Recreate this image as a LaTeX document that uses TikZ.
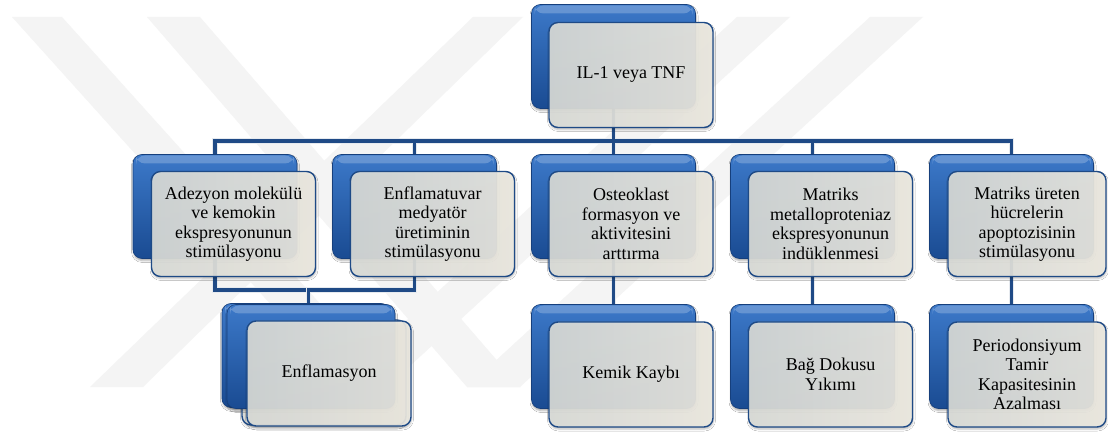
\documentclass[tikz,border=0pt]{standalone}
\usepackage{fontspec}
\setmainfont{Liberation Serif}
\newfontfamily\boxfont{Liberation Serif}
\usetikzlibrary{shadows,shadows.blur,calc}
\definecolor{bxtop}{HTML}{3C79C9}
\definecolor{bxbot}{HTML}{1A4B92}
\definecolor{bxedge}{HTML}{163F7C}
\definecolor{frline}{HTML}{1E4A86}
\definecolor{frL}{HTML}{DADCD8}
\definecolor{frR}{HTML}{EDEAE1}
\definecolor{lnk}{HTML}{1F4A86}
\definecolor{lnkhalo}{HTML}{E6EAEF}
\definecolor{wm}{HTML}{F4F4F4}
\tikzset{
  backbox/.style={rounded corners=9pt, minimum width=164pt, minimum height=104pt,
    inner sep=0pt, draw=bxedge, line width=0.6pt, top color=bxtop, bottom color=bxbot,
    blur shadow={shadow xshift=0.5pt, shadow yshift=-2pt, shadow blur radius=2pt, shadow opacity=35},
    path picture={\fill[white,opacity=0.22] ([xshift=3pt,yshift=-1pt]path picture bounding box.north west) rectangle ([xshift=-3pt,yshift=-9pt]path picture bounding box.north east);}},
  frontbox/.style={rounded corners=9pt, minimum width=164pt, minimum height=105pt,
    inner sep=0pt, draw=frline, line width=1.4pt, left color=frL, right color=frR,
    fill opacity=0.92, text opacity=1, align=center,
    blur shadow={shadow xshift=0.5pt, shadow yshift=-2pt, shadow blur radius=2pt, shadow opacity=30},
    font=\boxfont\fontsize{18}{19.5}\selectfont},
  conn/.style={line width=3.6pt, draw=lnk, preaction={draw=lnkhalo, line width=5.8pt}},
  wmark/.style={fill=wm, draw=none},
}
\begin{document}
\begin{tikzpicture}[x=1pt,y=-1pt]
\useasboundingbox (0,0) rectangle (1108,435);
\fill[white] (0,0) rectangle (1108,435);
% watermark
\fill[wmark] (12,17) -- (62,17) -- (395,387) -- (345,387) -- cycle;
\fill[wmark] (147,17) -- (200,17) -- (520,387) -- (467,387) -- cycle;
\fill[wmark] (473,17) -- (523,17) -- (143,387) -- (90,387) -- cycle;
\fill[wmark] (737,17) -- (790,17) -- (387,387) -- (334,387) -- cycle;
\fill[wmark] (870,17) -- (923,17) -- (520,387) -- (467,387) -- cycle;

% anchor points for connectors
\coordinate (tb) at (613.5,56.5);
\coordinate (a1b) at (215,206.5);
\coordinate (a2b) at (414.5,206.5);
\coordinate (a3b) at (613.5,206.5);
\coordinate (a4b) at (812.5,206.5);
\coordinate (a5b) at (1011.5,206.5);
\coordinate (k3b) at (613.5,356.5);
\coordinate (k4b) at (812.5,356.5);
\coordinate (k5b) at (1011.5,356.5);
\coordinate (ejoin) at (308.5,356);
\coordinate (bus) at (613.5,141);
\coordinate (lowbus) at (308.5,290);

% connectors (behind boxes)
\draw[conn] (tb) -- (bus)
  (bus) -| (a1b) (bus) -| (a2b) (bus) -- (a3b) (bus) -| (a4b) (bus) -| (a5b);
\draw[conn] (a1b) -- (a1b|-lowbus) -| (ejoin);
\draw[conn] (a2b) -- (a2b|-lowbus) -| (ejoin);
\draw[conn] (a3b) -- (k3b);
\draw[conn] (a4b) -- (k4b);
\draw[conn] (a5b) -- (k5b);

% top
\node[backbox] (tback) at (tb) {};
\node[frontbox] (tf) at (631,75) {IL-1 veya TNF};
% row 2
\node[backbox] (a1back) at (a1b) {};
\node[frontbox] (a1f) at (233.5,224) {Adezyon molekülü\\ve kemokin\\ekspresyonunun\\stimülasyonu};
\node[backbox] (a2back) at (a2b) {};
\node[frontbox] (a2f) at (432.5,224) {Enflamatuvar\\medyatör\\üretiminin\\stimülasyonu};
\node[backbox] (a3back) at (a3b) {};
\node[frontbox] (a3f) at (631,224) {Osteoklast\\formasyon ve\\aktivitesini\\arttırma};
\node[backbox] (a4back) at (a4b) {};
\node[frontbox] (a4f) at (830.5,224) {Matriks\\metalloproteniaz\\ekspresyonunun\\indüklenmesi};
\node[backbox] (a5back) at (a5b) {};
\node[frontbox, minimum width=158pt] (a5f) at (1027,224) {Matriks üreten\\hücrelerin\\apoptozisinin\\stimülasyonu};
% row 3
\node[backbox, minimum width=168pt] (e1back) at (306,355.5) {};
\node[frontbox] (e1f) at (324,372.5) {};
\node[backbox, minimum width=168pt] (e2back) at (311,356.5) {};
\node[frontbox] (e2f) at (329,373.5) {Enflamasyon};
\node[backbox] (k3back) at (k3b) {};
\node[frontbox] (k3f) at (631,374.5) {Kemik Kaybı};
\node[backbox] (k4back) at (k4b) {};
\node[frontbox] (k4f) at (830.5,374.5) {Bağ Dokusu\\Yıkımı};
\node[backbox] (k5back) at (k5b) {};
\node[frontbox, minimum width=158pt] (k5f) at (1027,374.5) {Periodonsiyum\\Tamir\\Kapasitesinin\\Azalması};
\end{tikzpicture}
\end{document}
